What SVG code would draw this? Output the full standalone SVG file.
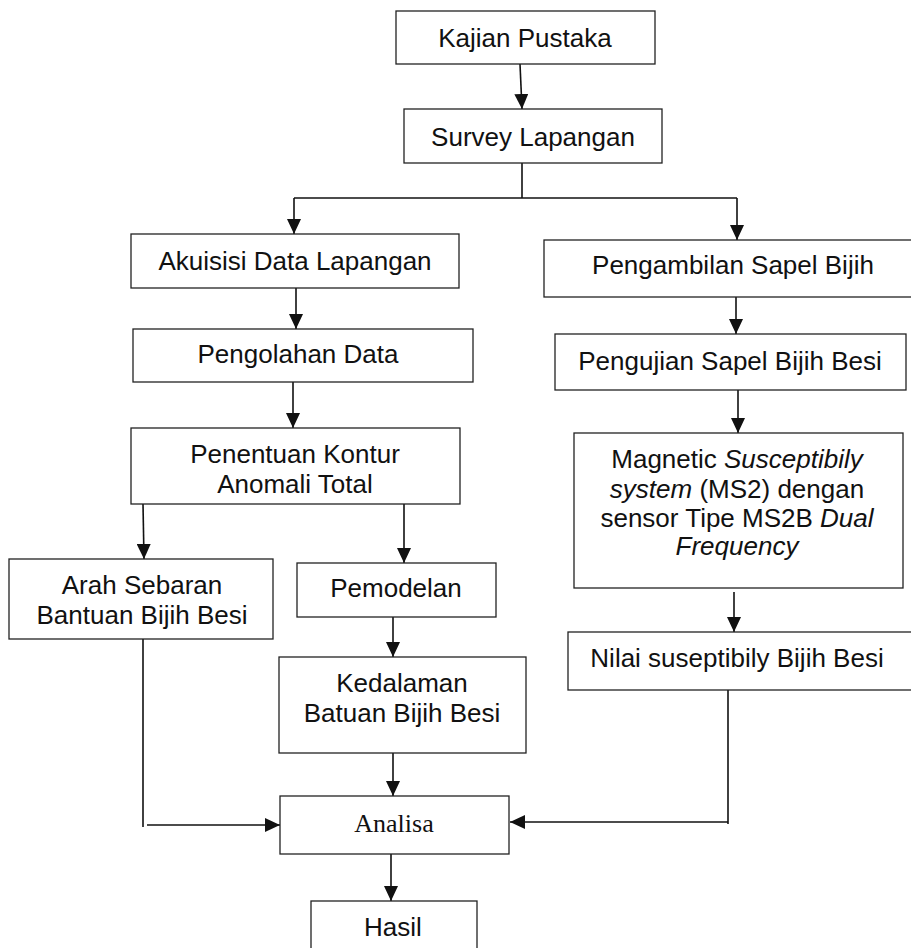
<svg xmlns="http://www.w3.org/2000/svg" width="911" height="948" viewBox="0 0 911 948">
<style>
  .box{fill:#fff;stroke:#222;stroke-width:1.3}
  .t{font-family:"Liberation Sans",Arial,sans-serif;font-size:26px;fill:#111;text-anchor:middle}
  .s{font-family:"Liberation Serif","Times New Roman",serif;font-size:26px;fill:#111;text-anchor:middle}
  .c{fill:none;stroke:#111;stroke-width:1.6}
  .a{marker-end:url(#ah)}
  .i{font-style:italic}
</style>
<defs>
  <marker id="ah" markerUnits="userSpaceOnUse" markerWidth="15" markerHeight="14" refX="15" refY="7" orient="auto">
    <path d="M0,0 L15,7 L0,14 Z" fill="#111"/>
  </marker>
</defs>
<rect width="911" height="948" fill="#fff"/>
<g id="connectors">
  <path class="c a" d="M520,64 L522,109"/>
  <path class="c" d="M522,163 L522,198"/>
  <path class="c" d="M294,198 L737,198"/>
  <path class="c a" d="M294,198 L294,234"/>
  <path class="c a" d="M737,198 L737,240"/>
  <path class="c a" d="M296,288 L296,329"/>
  <path class="c a" d="M293,382 L293,428"/>
  <path class="c a" d="M143,504 L144,559"/>
  <path class="c a" d="M404,504 L404,563"/>
  <path class="c a" d="M393,617 L393,657"/>
  <path class="c a" d="M393,753 L393,796"/>
  <path class="c" d="M143,639 L143,827"/>
  <path class="c a" d="M147,825 L280,825"/>
  <path class="c" d="M728,690 L728,824"/>
  <path class="c a" d="M728,822 L510,822"/>
  <path class="c a" d="M391,854 L391,901"/>
  <path class="c a" d="M736,297 L736,334"/>
  <path class="c a" d="M738,390 L738,433"/>
  <path class="c a" d="M734,592 L734,632"/>
</g>
<g id="kajian">
  <rect class="box" x="396" y="11" width="259" height="53"/>
  <text class="t" x="525" y="47">Kajian Pustaka</text>
</g>
<g id="survey">
  <rect class="box" x="404" y="109" width="258" height="54"/>
  <text class="t" x="533" y="146">Survey Lapangan</text>
</g>
<g id="akuisisi">
  <rect class="box" x="131" y="234" width="328" height="54"/>
  <text class="t" x="295" y="270">Akuisisi Data Lapangan</text>
</g>
<g id="pengolahan">
  <rect class="box" x="133" y="329" width="340" height="53"/>
  <text class="t" x="298" y="363">Pengolahan Data</text>
</g>
<g id="penentuan">
  <rect class="box" x="131" y="428" width="329" height="76"/>
  <text class="t" x="295" y="463">Penentuan Kontur</text>
  <text class="t" x="295" y="493">Anomali Total</text>
</g>
<g id="arah">
  <rect class="box" x="9" y="559" width="264" height="80"/>
  <text class="t" x="142" y="594">Arah Sebaran</text>
  <text class="t" x="142" y="624">Bantuan Bijih Besi</text>
</g>
<g id="pemodelan">
  <rect class="box" x="297" y="563" width="199" height="54"/>
  <text class="t" x="396" y="597">Pemodelan</text>
</g>
<g id="kedalaman">
  <rect class="box" x="279" y="657" width="247" height="96"/>
  <text class="t" x="402" y="692">Kedalaman</text>
  <text class="t" x="402" y="722">Batuan Bijih Besi</text>
</g>
<g id="analisa">
  <rect class="box" x="280" y="796" width="229" height="58"/>
  <text class="s" x="394" y="832">Analisa</text>
</g>
<g id="hasil">
  <rect class="box" x="311" y="901" width="166" height="60"/>
  <text class="t" x="393" y="936">Hasil</text>
</g>
<g id="pengambilan">
  <rect class="box" x="544" y="240" width="372" height="57"/>
  <text class="t" x="733" y="274">Pengambilan Sapel Bijih</text>
</g>
<g id="pengujian">
  <rect class="box" x="555" y="334" width="351" height="56"/>
  <text class="t" x="730" y="370">Pengujian Sapel Bijih Besi</text>
</g>
<g id="magnetic">
  <rect class="box" x="574" y="433" width="329" height="155"/>
  <text class="t" x="737" y="468">Magnetic <tspan class="i">Susceptibily</tspan></text>
  <text class="t" x="737" y="498"><tspan class="i">system</tspan> (MS2) dengan</text>
  <text class="t" x="737" y="527">sensor Tipe MS2B <tspan class="i">Dual</tspan></text>
  <text class="t" x="737" y="555"><tspan class="i">Frequency</tspan></text>
</g>
<g id="nilai">
  <rect class="box" x="568" y="632" width="348" height="58"/>
  <text class="t" x="737" y="667">Nilai suseptibily Bijih Besi</text>
</g>
</svg>
